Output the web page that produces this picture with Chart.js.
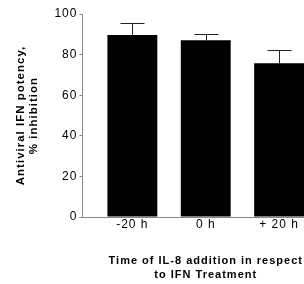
<!DOCTYPE html>
<html>
<head>
<meta charset="utf-8">
<script src="https://cdn.jsdelivr.net/npm/chart.js@4.4.1/dist/chart.umd.min.js"></script>
<style>
  html, body { margin: 0; padding: 0; background: #fff; overflow: hidden; }
  #wrap { width: 340px; height: 284px; }
</style>
</head>
<body>
<div id="wrap"><canvas id="chart" width="340" height="284"></canvas></div>
<script>
const categories = ["-20 h", "0 h", "+ 20 h"];
const potency = [89.6, 87.1, 75.7];
const errorUp = [5.9, 3.0, 6.5];
const yTicks = [0, 20, 40, 60, 80, 100];

const FONT = "'Liberation Sans', Arial, sans-serif";

// the scanned figure uses loosely tracked lettering
const tracking = {
  id: "tracking",
  beforeLayout(chart) { chart.ctx.letterSpacing = "1px"; },
  beforeDraw(chart) { chart.ctx.letterSpacing = "1px"; },
};

// simple error bar drawer, uses the library's own scales
const errorBars = {
  id: "errorBars",
  afterDatasetsDraw(chart) {
    const { ctx, scales } = chart;
    const meta = chart.getDatasetMeta(0);
    ctx.save();
    ctx.strokeStyle = "#222";
    ctx.lineWidth = 1;
    meta.data.forEach((bar, i) => {
      const x = Math.round(bar.x) + 0.5;
      const yTop = Math.round(scales.y.getPixelForValue(potency[i] + errorUp[i])) + 0.5;
      const yBar = scales.y.getPixelForValue(potency[i]);
      ctx.beginPath();
      ctx.moveTo(x, yBar);
      ctx.lineTo(x, yTop);
      ctx.moveTo(x - 12, yTop);
      ctx.lineTo(x + 12, yTop);
      ctx.stroke();
    });
    ctx.restore();
  },
};

new Chart(document.getElementById("chart"), {
  type: "bar",
  data: {
    datasets: [{
      data: potency.map((v, i) => ({ x: i, y: v })),
      backgroundColor: "#000",
      borderWidth: 0,
      barPercentage: 0.68,
      categoryPercentage: 1,
    }],
  },
  options: {
    responsive: false,
    animation: false,
    layout: { padding: { top: 14, right: 11, bottom: 2, left: 14 } },
    plugins: { legend: { display: false }, tooltip: { enabled: false } },
    scales: {
      x: {
        type: "linear",
        offset: false,
        min: -0.68,
        max: 2.68,
        afterBuildTicks: (axis) => { axis.ticks = categories.map((c, i) => ({ value: i })); },
        ticks: {
          callback: (v) => categories[v],
          color: "#000",
          font: { family: FONT, size: 12 },
          padding: 0,
          maxRotation: 0,
        },
        grid: { display: false, drawTicks: false },
        border: { color: "#888", width: 1 },
        title: {
          display: true,
          text: ["Time of IL-8 addition in respect", "to IFN Treatment"],
          color: "#000",
          font: { family: FONT, size: 11, weight: "bold", lineHeight: 1.25 },
          padding: { top: 23, bottom: 0 },
        },
      },
      y: {
        min: 0,
        max: 100,
        afterBuildTicks: (axis) => { axis.ticks = yTicks.map((v) => ({ value: v })); },
        ticks: {
          color: "#000",
          font: { family: FONT, size: 12 },
          padding: 2,
        },
        grid: { display: true, drawOnChartArea: false, tickLength: 3, color: "#888" },
        border: { color: "#888", width: 1 },
        title: {
          display: true,
          text: ["Antiviral IFN potency,", "% inhibition"],
          color: "#000",
          font: { family: FONT, size: 11.5, weight: "bold", lineHeight: 1.15 },
          padding: { top: 0, bottom: 12 },
        },
      },
    },
  },
  plugins: [tracking, errorBars],
});
</script>
</body>
</html>
